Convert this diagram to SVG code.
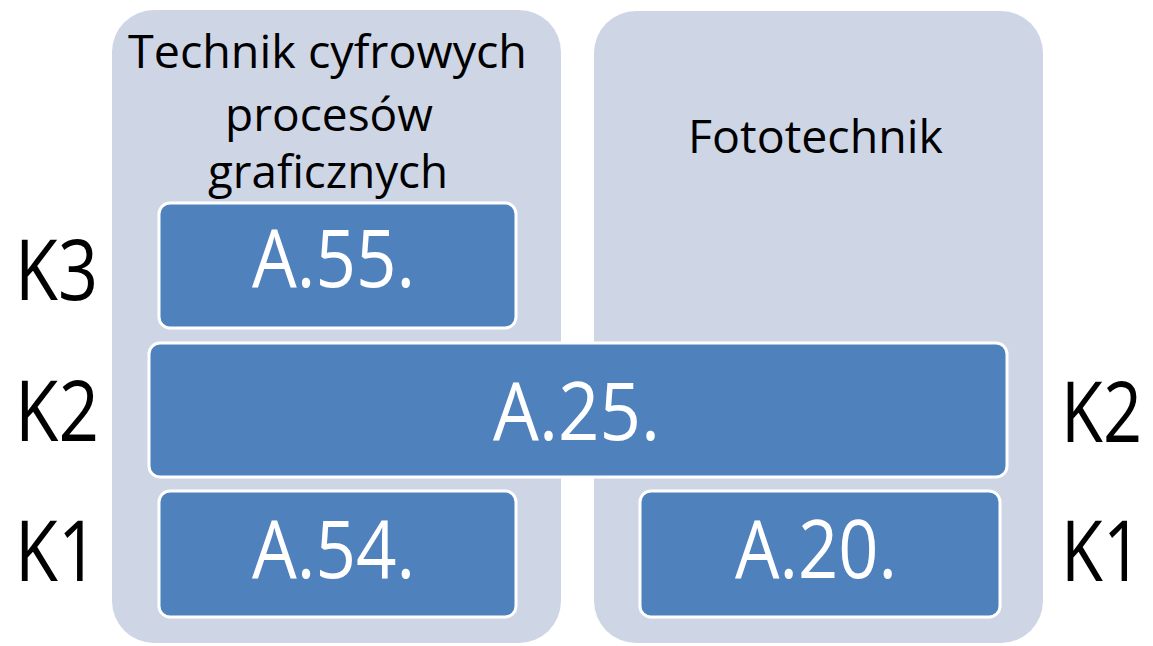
<svg xmlns="http://www.w3.org/2000/svg" width="1153" height="646" viewBox="0 0 1153 646">
<style>
.panel{fill:#CED6E6;}
.box{fill:#4F81BD;stroke:#FFFFFF;stroke-width:3;}
.t{font-family:"Open Sans","Liberation Sans",sans-serif;fill:#000000;}
.w{font-family:"Open Sans","Liberation Sans",sans-serif;fill:#FFFFFF;font-size:80px;}
.k{font-family:"Open Sans","Liberation Sans",sans-serif;fill:#000000;font-size:72px;}
</style>
<rect width="1153" height="646" fill="#FFFFFF"/>
<g id="panel-left">
<rect class="panel" x="112" y="10" width="449" height="633" rx="42"/>
<text class="t" font-size="46" x="128" y="68" textLength="399" lengthAdjust="spacingAndGlyphs">Technik cyfrowych</text>
<text class="t" font-size="46" x="225" y="131" textLength="208" lengthAdjust="spacingAndGlyphs">procesów</text>
<text class="t" font-size="46" x="208" y="188" textLength="240" lengthAdjust="spacingAndGlyphs">graficznych</text>
</g>
<g id="panel-right">
<rect class="panel" x="594" y="11" width="449" height="632" rx="42"/>
<text class="t" font-size="46" x="688" y="153" textLength="255" lengthAdjust="spacingAndGlyphs">Fototechnik</text>
</g>
<g id="a55">
<rect class="box" x="159" y="203" width="357" height="125" rx="11"/>
<text class="w" x="252" y="287" textLength="163" lengthAdjust="spacingAndGlyphs">A.55.</text>
</g>
<g id="a25">
<rect class="box" x="149" y="343" width="858" height="134" rx="11"/>
<text class="w" x="493" y="440" textLength="167" lengthAdjust="spacingAndGlyphs">A.25.</text>
</g>
<g id="a54">
<rect class="box" x="159" y="491" width="357" height="126" rx="11"/>
<text class="w" x="252" y="578" textLength="163" lengthAdjust="spacingAndGlyphs">A.54.</text>
</g>
<g id="a20">
<rect class="box" x="640" y="491" width="360" height="126" rx="11"/>
<text class="w" x="735" y="578" textLength="162" lengthAdjust="spacingAndGlyphs">A.20.</text>
</g>
<g id="labels">
<text class="k" transform="translate(15,300) scale(1,1.17)" textLength="83" lengthAdjust="spacingAndGlyphs">K3</text>
<text class="k" transform="translate(15,441) scale(1,1.17)" textLength="84" lengthAdjust="spacingAndGlyphs">K2</text>
<text class="k" transform="translate(15,581) scale(1,1.17)" textLength="83" lengthAdjust="spacingAndGlyphs">K1</text>
<text class="k" transform="translate(1061,442) scale(1,1.17)" textLength="81" lengthAdjust="spacingAndGlyphs">K2</text>
<text class="k" transform="translate(1061,581) scale(1,1.17)" textLength="81" lengthAdjust="spacingAndGlyphs">K1</text>
</g>
<g id="connectors"/>
</svg>
